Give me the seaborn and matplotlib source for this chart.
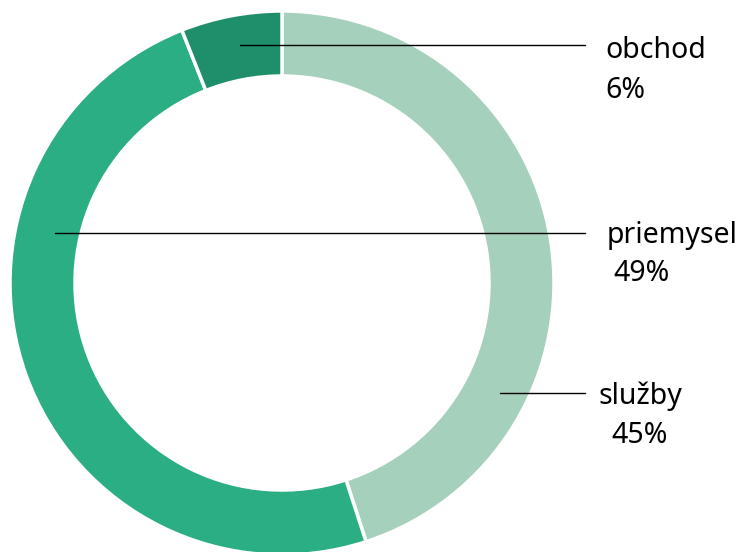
import numpy as np
import matplotlib
matplotlib.use("Agg")
import matplotlib.pyplot as plt
import seaborn as sns

sektory = ["služby", "priemysel", "obchod"]
podiel = [45, 49, 6]
farby = ["#a5d0bc", "#2bae84", "#1f8f6b"]

sns.set_theme(style="white")
plt.rcParams['font.family'] = ['Noto Sans', 'DejaVu Sans']

fig = plt.figure(figsize=(7.43, 5.52), dpi=100)
ax = fig.add_axes([0, 0, 1, 1])

H = 552
ax.pie(
    podiel,
    colors=farby,
    startangle=90,
    counterclock=False,
    radius=272,
    center=(282, H - 283),
    wedgeprops=dict(width=65, edgecolor="white", linewidth=2.5),
    frame=True,
)
ax.set_xlim(0, 743)
ax.set_ylim(0, 552)
ax.axis("off")

# popisky s vodiacimi ciarami
popisky = [
    ("obchod", "6%", 240, 45, 605, 605, 58, 98),
    ("priemysel", "49%", 55, 233, 607, 613, 243, 281),
    ("služby", "45%", 500, 393, 598, 611, 404, 443),
]
for nazov, pct, x0, yl, xt1, xt2, yb1, yb2 in popisky:
    ax.plot([x0, 585], [H - yl, H - yl], color="black", lw=1)
    ax.text(xt1, H - yb1, nazov, fontsize=20.5, va="baseline", ha="left", color="black")
    ax.text(xt2, H - yb2, pct, fontsize=20.5, va="baseline", ha="left", color="black")

plt.savefig("out.png", dpi=100)
